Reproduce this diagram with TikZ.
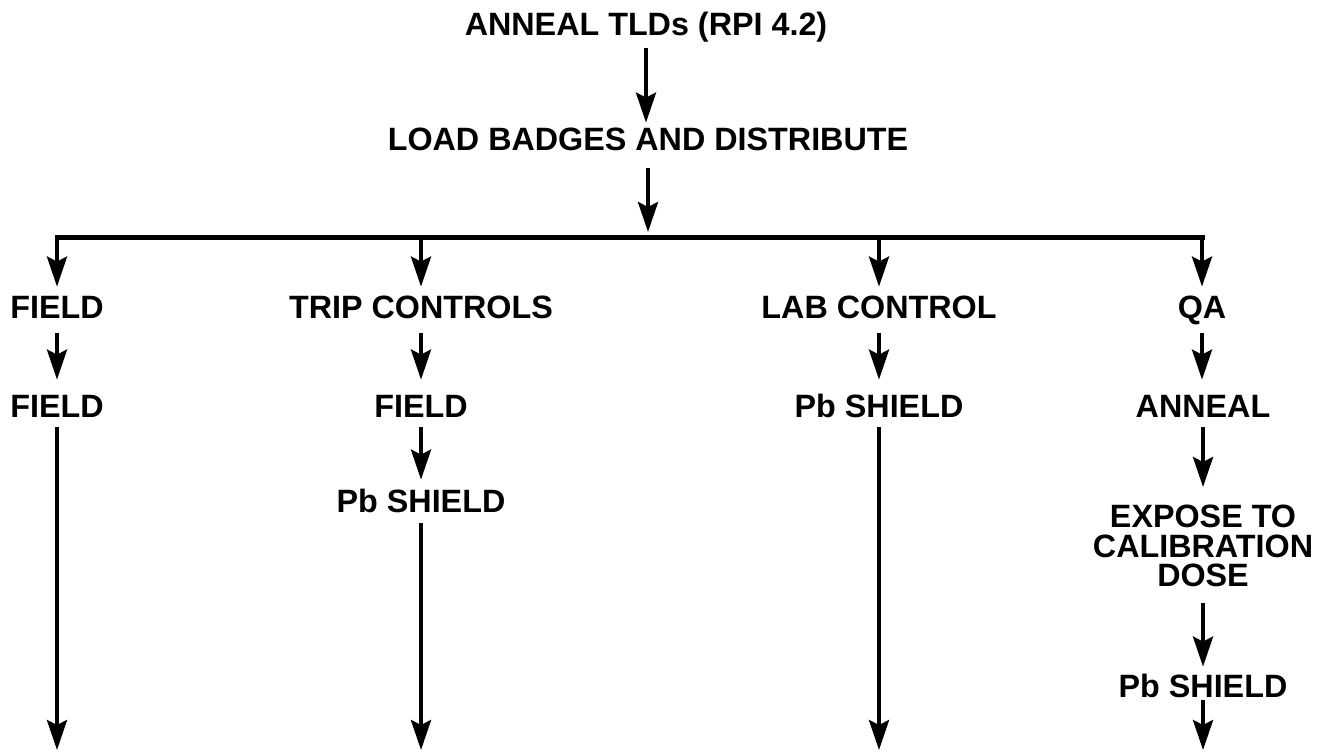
\documentclass[tikz,border=0pt]{standalone}
\usepackage{fontspec}
\setmainfont{Liberation Sans}
\usetikzlibrary{arrows.meta}
\begin{document}
\begin{tikzpicture}[x=0.5pt,y=-0.5pt,
  txt/.style={font=\bfseries\fontsize{16.15pt}{14.75pt}\selectfont, inner sep=0pt},
  lbl/.style={txt, text height=11.5pt, text depth=0pt, anchor=base},
  arr/.style={line width=2pt, -{Stealth[length=15pt,width=10pt,inset=2.5pt]}},
  bus/.style={line width=2.5pt, line cap=rect}]
\useasboundingbox (0,0) rectangle (1325,752);

% nodes
\node[lbl] (tld)  at (646,35)  {ANNEAL TLDs (RPI 4.2)};
\node[lbl] (load) at (648,150) {LOAD BADGES AND DISTRIBUTE};

\node[lbl] (f1) at (57,318)   {FIELD};
\node[lbl] (tc) at (421,318)  {TRIP CONTROLS};
\node[lbl] (lc) at (879,318)  {LAB CONTROL};
\node[lbl] (qa) at (1202,318) {QA};

\node[lbl] (f2)  at (57,417)   {FIELD};
\node[lbl] (tf)  at (421,417)  {FIELD};
\node[lbl] (ps3) at (879,417)  {Pb SHIELD};
\node[lbl] (an)  at (1203,417) {ANNEAL};

\node[lbl] (ps2) at (421,512) {Pb SHIELD};
\node[txt, anchor=north, align=center] (exp) at (1203,505) {EXPOSE TO\\CALIBRATION\\DOSE};
\node[lbl] (ps4) at (1203,697) {Pb SHIELD};

% bus coordinates and free ends
\coordinate (b1) at (57,237);
\coordinate (b2) at (421,237);
\coordinate (b3) at (879,237);
\coordinate (b4) at (1202,237);
\coordinate (e1) at (57,750);
\coordinate (e2) at (421,750);
\coordinate (e3) at (879,750);
\coordinate (e4) at (1203,750);

% top
\draw[arr, shorten <=6.5pt, shorten >=2pt] (tld.south) -- (tld.south |- load.north);
\draw[arr, shorten <=9pt, shorten >=2.5pt] (load.south) -- (load.south |- b1);
\draw[bus] (b1) -- (b4);

% branches
\draw[arr, shorten >=4pt] (b1) -- (b1 |- f1.north);
\draw[arr, shorten >=4pt] (b2) -- (b2 |- tc.north);
\draw[arr, shorten >=4pt] (b3) -- (b3 |- lc.north);
\draw[arr, shorten >=4pt] (b4) -- (b4 |- qa.north);

% row 1 to row 2
\draw[arr, shorten <=7.5pt, shorten >=7pt] (f1.south) -- (f1.south |- f2.north);
\draw[arr, shorten <=7.5pt, shorten >=7pt] (tc.south) -- (tc.south |- tf.north);
\draw[arr, shorten <=7.5pt, shorten >=7pt] (lc.south) -- (lc.south |- ps3.north);
\draw[arr, shorten <=7.5pt, shorten >=7pt] (qa.south) -- (qa.south |- an.north);

% column 1
\draw[arr, shorten <=5pt] (f2.south) -- (e1);
% column 2
\draw[arr, shorten <=5pt, shorten >=4.5pt] (tf.south) -- (tf.south |- ps2.north);
\draw[arr, shorten <=5.5pt] (ps2.south) -- (e2);
% column 3
\draw[arr, shorten <=5pt] (ps3.south) -- (e3);
% column 4
\draw[arr, shorten <=5pt, shorten >=9pt] (an.south) -- (an.south |- exp.north);
\draw[arr, shorten <=7.5pt, shorten >=3.5pt] (exp.south) -- (exp.south |- ps4.north);
\draw[arr, shorten <=1.5pt] (ps4.south) -- (e4);
\end{tikzpicture}
\end{document}
